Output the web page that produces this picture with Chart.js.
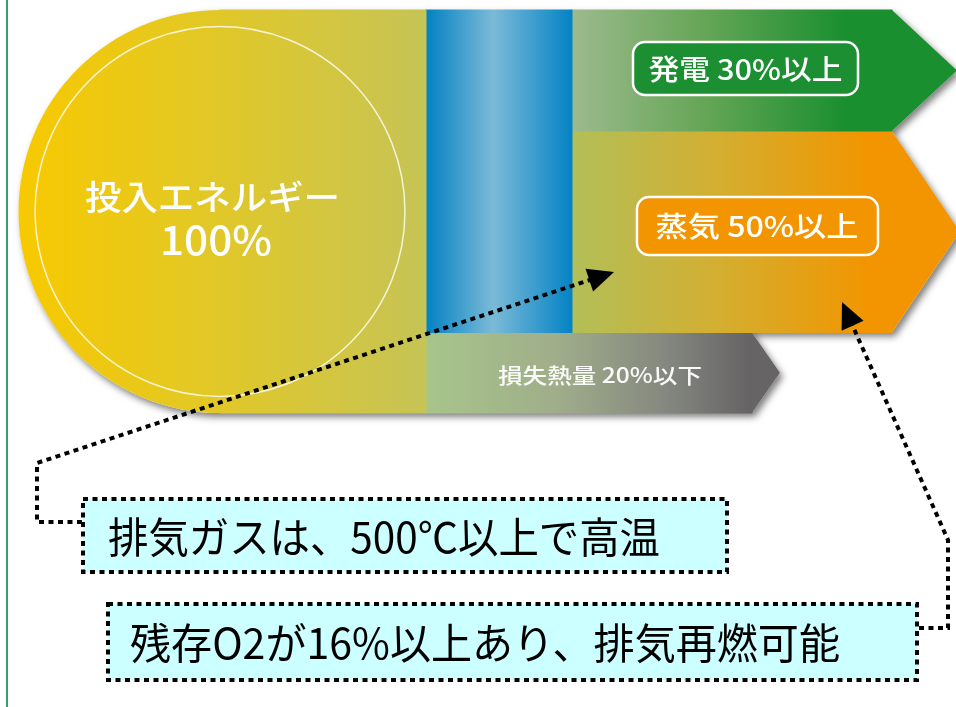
<!DOCTYPE html>
<html><head><meta charset="utf-8">
<script src="https://cdn.jsdelivr.net/npm/chart.js@4.4.0/dist/chart.umd.min.js"></script>
<style>html,body{margin:0;padding:0;background:#fff;overflow:hidden}canvas{display:block}</style>
</head><body>
<canvas id="c" width="956" height="707"></canvas>
<script>
// ---------------- data ----------------
const inputTitle = '投入エネルギー';
const inputShare = 100;
const outputCategories = ['発電', '蒸気', '損失熱量'];
const outputShares = [30, 50, 20];
const outputQualifiers = ['以上', '以上', '以下'];
const notes = ['排気ガスは、500℃以上で高温', '残存O2が16%以上あり、排気再燃可能'];

// cumulative stacking of the output shares (top to bottom)
const outHi = [], outLo = [];
(function(){ let top = inputShare; outputShares.forEach(s => { outHi.push(top); outLo.push(top - s); top -= s; }); })();
const recoveredLo = outLo[1];           // generation + steam pass through the blue column

// ---------------- layout (pixel units on the x scale) ----------------
const LAYOUT = {
  width: 956, height: 707, topPx: 10, basePx: 413,
  capCenter: 220, split: 426, recovEnd: 572, outEnd: 892, lossEnd: 752,
  tips: [957, 960, 780],
  ring: 0.918,
  labelBoxes: [[633, 42, 858, 95], [637, 197, 878, 255], null],
  labelText: [[745.5, 69, 194, 28], [757, 226, 203, 28], [600, 375, 204, 21]],
  inputText: [[212.5, 197, 255, 34], [216, 240, 112, 40]],
  noteBoxes: [[83, 499, 727, 572], [108, 604, 917, 680]],
  noteText: [[384, 537, 552, 42], [485, 643, 710, 42]],
  arrows: [
    {path: [[82, 522], [37, 522], [37, 463]], tip: [614, 272]},
    {path: [[919, 628], [948, 628], [948, 540]], tip: [842, 302]}
  ]
};
const R = LAYOUT.height * inputShare / (LAYOUT.basePx - LAYOUT.topPx);
const Y_MAX = inputShare + LAYOUT.topPx * R / LAYOUT.height;
const Y_MIN = Y_MAX - R;

// ---------------- styles ----------------
const COLORS = {
  input: [[0, '#f7c900'], [0.45, '#e3c825'], [1, '#c6c456']],
  recovered: [[0, '#0281c3'], [0.46, '#7bbad7'], [1, '#0483c5']],
  outputs: [
    {x0: 572, x1: 845, stops: [[0, '#9dba8e'], [0.5, '#63a554'], [1, '#1a8f30']]},
    {x0: 572, x1: 870, stops: [[0, '#b2bf58'], [0.5, '#d4ae30'], [1, '#f29500']]},
    {x0: 426, x1: 748, stops: [[0, '#a7c58a'], [0.4, '#a0ae8a'], [0.75, '#84877f'], [1, '#666465']]}
  ],
  boxFill: ['#1b8f31', '#f29500'],
  noteFill: '#ccffff',
  frame: '#35a06c'
};
const LABEL_FONT = '"Noto Sans CJK JP", "Noto Sans", sans-serif';

function hGrad(ctx, x0, x1, stops) {
  const g = ctx.createLinearGradient(x0, 0, x1, 0);
  stops.forEach(([o, c]) => g.addColorStop(o, c));
  return g;
}
function inputGrad(chart) {
  const c = chart.ctx, xs = chart.scales.x, ys = chart.scales.y;
  const r = (ys.getPixelForValue(0) - ys.getPixelForValue(inputShare)) / 2;
  return hGrad(c, xs.getPixelForValue(LAYOUT.capCenter) - r, xs.getPixelForValue(LAYOUT.split), COLORS.input);
}
function recGrad(chart) {
  const xs = chart.scales.x;
  return hGrad(chart.ctx, xs.getPixelForValue(LAYOUT.split), xs.getPixelForValue(LAYOUT.recovEnd), COLORS.recovered);
}
function outGrad(chart, i) {
  const xs = chart.scales.x, o = COLORS.outputs[i];
  return hGrad(chart.ctx, xs.getPixelForValue(o.x0), xs.getPixelForValue(o.x1), o.stops);
}
function safe(fn) { return (ctx) => ctx.chart.chartArea ? fn(ctx.chart) : '#ccc'; }

function fitText(ctx, text, cx, cy, w, size, weight, color) {
  ctx.save();
  ctx.font = weight + ' ' + size + 'px ' + LABEL_FONT;
  ctx.fillStyle = color; ctx.textAlign = 'center'; ctx.textBaseline = 'middle';
  const m = ctx.measureText(text).width;
  ctx.translate(cx, cy); ctx.scale(w / m, 1);
  ctx.fillText(text, 0, 0);
  ctx.restore();
}
function roundRect(ctx, x0, y0, x1, y1, r) {
  ctx.beginPath();
  ctx.moveTo(x0 + r, y0); ctx.lineTo(x1 - r, y0); ctx.arcTo(x1, y0, x1, y0 + r, r);
  ctx.lineTo(x1, y1 - r); ctx.arcTo(x1, y1, x1 - r, y1, r);
  ctx.lineTo(x0 + r, y1); ctx.arcTo(x0, y1, x0, y1 - r, r);
  ctx.lineTo(x0, y0 + r); ctx.arcTo(x0, y0, x0 + r, y0, r);
  ctx.closePath();
}

// geometry of arrow heads / cap, derived from the scales
function shapes(chart) {
  const xs = chart.scales.x, ys = chart.scales.y;
  const X = v => xs.getPixelForValue(v), Y = v => ys.getPixelForValue(v);
  const yTop = Y(inputShare), yBot = Y(0);
  const r = (yBot - yTop) / 2;
  const heads = outputShares.map((s, i) => {
    const start = i < 2 ? X(LAYOUT.outEnd) : X(LAYOUT.lossEnd);
    return {start, tip: X(LAYOUT.tips[i]), hi: Y(outHi[i]), lo: Y(outLo[i]), mid: Y((outHi[i] + outLo[i]) / 2)};
  });
  return {cap: {cx: X(LAYOUT.capCenter), cy: (yTop + yBot) / 2, r}, yTop, yBot, heads, X, Y};
}

const flowPlugin = {
  id: 'flow',
  beforeDatasetsDraw(chart) {
    const ctx = chart.ctx, s = shapes(chart);
    ctx.save();
    ctx.shadowColor = 'rgba(0,0,0,0.5)'; ctx.shadowBlur = 7; ctx.shadowOffsetX = 3; ctx.shadowOffsetY = 4;
    ctx.fillStyle = '#ffffff';
    ctx.beginPath();
    ctx.arc(s.cap.cx, s.cap.cy, s.cap.r, 0, Math.PI * 2);
    ctx.rect(s.cap.cx, s.yTop, s.X(LAYOUT.split) - s.cap.cx, s.yBot - s.yTop);
    ctx.rect(s.X(LAYOUT.split), s.yTop, s.X(LAYOUT.recovEnd) - s.X(LAYOUT.split), s.Y(recoveredLo) - s.yTop);
    s.heads.forEach((h, i) => {
      const x0 = i < 2 ? s.X(LAYOUT.recovEnd) : s.X(LAYOUT.split);
      ctx.moveTo(x0, h.hi); ctx.lineTo(h.start, h.hi); ctx.lineTo(h.tip, h.mid);
      ctx.lineTo(h.start, h.lo); ctx.lineTo(x0, h.lo); ctx.closePath();
    });
    ctx.fill();
    ctx.restore();
    ctx.save();
    ctx.fillStyle = inputGrad(chart);
    ctx.beginPath(); ctx.arc(s.cap.cx, s.cap.cy, s.cap.r, 0, Math.PI * 2); ctx.fill();
    s.heads.forEach((h, i) => {
      ctx.fillStyle = outGrad(chart, i);
      ctx.beginPath();
      ctx.moveTo(h.start - 3, h.hi); ctx.lineTo(h.start, h.hi); ctx.lineTo(h.tip, h.mid);
      ctx.lineTo(h.start, h.lo); ctx.lineTo(h.start - 3, h.lo); ctx.closePath(); ctx.fill();
    });
    ctx.restore();
  },
  afterDatasetsDraw(chart) {
    const ctx = chart.ctx, s = shapes(chart);
    ctx.save();
    ctx.strokeStyle = 'rgba(255,255,255,0.8)'; ctx.lineWidth = 1.5;
    ctx.beginPath(); ctx.arc(s.cap.cx, s.cap.cy, s.cap.r * LAYOUT.ring, 0, Math.PI * 2); ctx.stroke();
    ctx.restore();
    const it = LAYOUT.inputText;
    fitText(ctx, inputTitle, it[0][0], it[0][1], it[0][2], it[0][3], 500, '#ffffff');
    fitText(ctx, inputShare + '%', it[1][0], it[1][1], it[1][2], it[1][3], 500, '#ffffff');
    outputCategories.forEach((cat, i) => {
      const b = LAYOUT.labelBoxes[i];
      if (b) {
        ctx.save();
        roundRect(ctx, b[0], b[1], b[2], b[3], 12);
        ctx.fillStyle = COLORS.boxFill[i]; ctx.fill();
        ctx.strokeStyle = '#ffffff'; ctx.lineWidth = 2.5; ctx.stroke();
        ctx.restore();
      }
      const t = LAYOUT.labelText[i];
      fitText(ctx, cat + ' ' + outputShares[i] + '%' + outputQualifiers[i], t[0], t[1], t[2], t[3], 500, i < 2 ? '#ffffff' : 'rgba(255,255,255,0.95)');
    });
    notes.forEach((n, i) => {
      const b = LAYOUT.noteBoxes[i], t = LAYOUT.noteText[i];
      ctx.save();
      ctx.fillStyle = COLORS.noteFill;
      ctx.fillRect(b[0], b[1], b[2] - b[0], b[3] - b[1]);
      ctx.strokeStyle = '#000'; ctx.lineWidth = 4; ctx.setLineDash([5, 4.5]);
      ctx.strokeRect(b[0], b[1], b[2] - b[0], b[3] - b[1]);
      ctx.restore();
      fitText(ctx, n, t[0], t[1], t[2], t[3], 400, '#000000');
    });
    LAYOUT.arrows.forEach(a => {
      const last = a.path[a.path.length - 1];
      const dx = a.tip[0] - last[0], dy = a.tip[1] - last[1], len = Math.hypot(dx, dy);
      const ux = dx / len, uy = dy / len, hl = 26, hw = 12;
      const bx = a.tip[0] - ux * hl, by = a.tip[1] - uy * hl;
      ctx.save();
      ctx.strokeStyle = '#000'; ctx.lineWidth = 4; ctx.setLineDash([5, 4.5]);
      ctx.beginPath(); ctx.moveTo(a.path[0][0], a.path[0][1]);
      a.path.slice(1).forEach(p => ctx.lineTo(p[0], p[1]));
      ctx.lineTo(bx + ux * 2, by + uy * 2); ctx.stroke();
      ctx.setLineDash([]); ctx.fillStyle = '#000';
      ctx.beginPath(); ctx.moveTo(a.tip[0], a.tip[1]);
      ctx.lineTo(bx - uy * hw, by + ux * hw); ctx.lineTo(bx + uy * hw, by - ux * hw); ctx.closePath(); ctx.fill();
      ctx.restore();
    });
    ctx.save(); ctx.fillStyle = COLORS.frame; ctx.fillRect(6, 0, 2, LAYOUT.height); ctx.restore();
  }
};

const bar = (label, x0, x1, lo, hi, color) => ({
  label, data: [{x: (x0 + x1) / 2, y: [lo, hi]}], barThickness: x1 - x0,
  grouped: false, backgroundColor: color, borderWidth: 0, inflateAmount: 0.5
});

new Chart(document.getElementById('c'), {
  type: 'bar',
  data: {
    datasets: [
      bar(inputTitle, LAYOUT.capCenter, LAYOUT.split, 0, inputShare, safe(inputGrad)),
      bar('回収', LAYOUT.split, LAYOUT.recovEnd, recoveredLo, inputShare, safe(recGrad)),
      bar(outputCategories[0], LAYOUT.recovEnd, LAYOUT.outEnd, outLo[0], outHi[0], safe(c => outGrad(c, 0))),
      bar(outputCategories[1], LAYOUT.recovEnd, LAYOUT.outEnd, outLo[1], outHi[1], safe(c => outGrad(c, 1))),
      bar(outputCategories[2], LAYOUT.split, LAYOUT.lossEnd, outLo[2], outHi[2], safe(c => outGrad(c, 2)))
    ]
  },
  options: {
    responsive: false, animation: false, events: [], devicePixelRatio: 1,
    layout: {padding: 0},
    plugins: {legend: {display: false}, tooltip: {enabled: false}},
    scales: {
      x: {type: 'linear', min: 0, max: LAYOUT.width, offset: false, bounds: 'data', display: false},
      y: {type: 'linear', min: Y_MIN, max: Y_MAX, bounds: 'data', display: false}
    }
  },
  plugins: [flowPlugin]
});
</script>
</body></html>
